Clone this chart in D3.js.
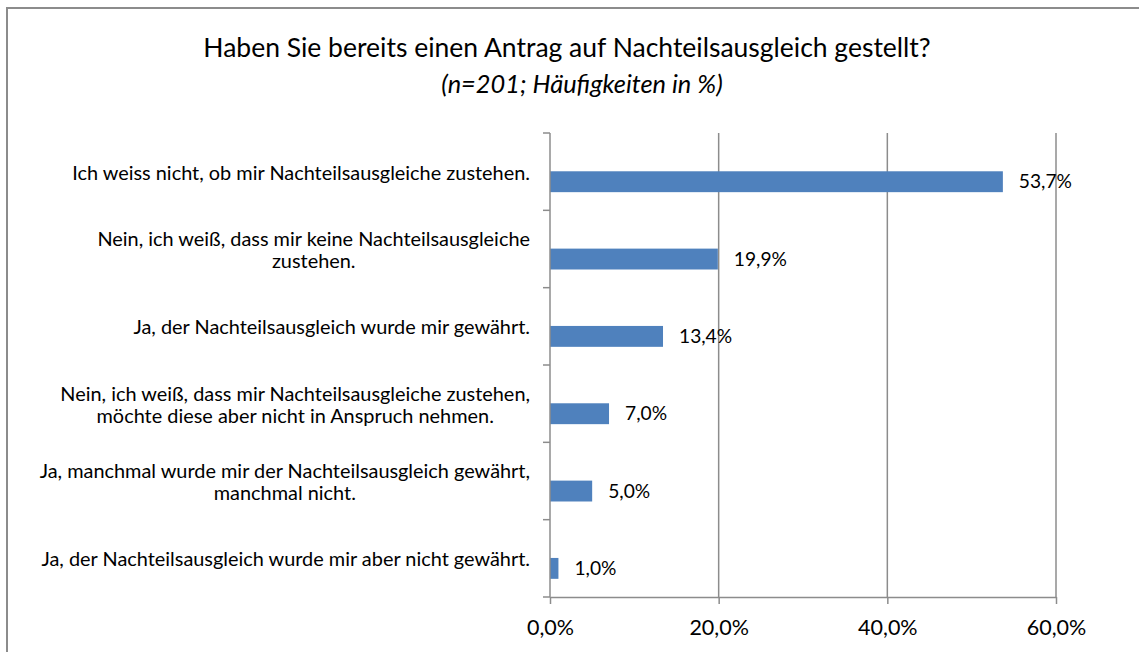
<!DOCTYPE html>
<html>
<head>
<meta charset="utf-8">
<script src="https://cdn.jsdelivr.net/npm/d3@7"></script>
<style>
  body { margin: 0; background: #fff; }
  svg { display: block; font-family: Lato, "Open Sans", sans-serif; }
</style>
</head>
<body>
<svg id="chart" width="1139" height="652"></svg>
<script>
// answers, top to bottom; long ones split over two lines like the original
var categories = [
  ['Ich weiss nicht, ob mir Nachteilsausgleiche zustehen.'],
  ['Nein, ich weiß, dass mir keine Nachteilsausgleiche', 'zustehen.'],
  ['Ja, der Nachteilsausgleich wurde mir gewährt.'],
  ['Nein, ich weiß, dass mir Nachteilsausgleiche zustehen,', 'möchte diese aber nicht in Anspruch nehmen.'],
  ['Ja, manchmal wurde mir der Nachteilsausgleich gewährt,', 'manchmal nicht.'],
  ['Ja, der Nachteilsausgleich wurde mir aber nicht gewährt.']
];
var values = [53.7, 19.9, 13.4, 7.0, 5.0, 1.0];
var xTicks = [0, 20, 40, 60];
var title = 'Haben Sie bereits einen Antrag auf Nachteilsausgleich gestellt?';
var subtitle = '(n=201; Häufigkeiten in %)';

(function () {
  'use strict';

  var svg = d3.select('#chart');
  var left = 550, right = 1056, top = 133, bottom = 597;
  var gray = '#8c8c8c';
  var fmt = function (v) { return v.toFixed(1).replace('.', ',') + '%'; };

  var x = d3.scaleLinear().domain([0, 60]).range([left, right]);
  var y = d3.scaleBand()
    .domain(d3.range(categories.length))
    .range([top, bottom]);

  // outer chart frame (runs off the page on the right and bottom)
  svg.append('rect')
    .attr('x', 7).attr('y', 8)
    .attr('width', 1300).attr('height', 800)
    .attr('fill', 'none')
    .attr('stroke', gray)
    .attr('stroke-width', 2);

  svg.append('text')
    .attr('x', 567).attr('y', 57)
    .attr('text-anchor', 'middle')
    .attr('font-size', 26.5)
    .attr('fill', '#000')
    .text(title);

  svg.append('text')
    .attr('x', 582).attr('y', 93)
    .attr('text-anchor', 'middle')
    .attr('font-size', 25.4)
    .attr('font-style', 'italic')
    .attr('fill', '#000')
    .text(subtitle);

  // vertical gridlines
  svg.append('g')
    .selectAll('line')
    .data(xTicks.filter(function (d) { return d > 0; }))
    .join('line')
    .attr('x1', function (d) { return x(d); })
    .attr('x2', function (d) { return x(d); })
    .attr('y1', top).attr('y2', bottom)
    .attr('stroke', gray)
    .attr('stroke-width', 1.5);

  // bars sit in the lower half of each band, as in the original
  var barH = y.bandwidth() * 0.27;
  var barOff = y.bandwidth() * 0.495;

  svg.append('g')
    .selectAll('rect')
    .data(values)
    .join('rect')
    .attr('x', x(0))
    .attr('y', function (d, i) { return y(i) + barOff; })
    .attr('width', function (d) { return x(d) - x(0); })
    .attr('height', barH)
    .attr('fill', '#4f81bd');

  svg.append('g')
    .selectAll('text')
    .data(values)
    .join('text')
    .attr('x', function (d) { return x(d) + 16; })
    .attr('y', function (d, i) { return y(i) + barOff + barH / 2; })
    .attr('dy', '0.35em')
    .attr('font-size', 19.2)
    .attr('fill', '#000')
    .text(fmt);

  // x axis
  var xAxis = svg.append('g')
    .attr('transform', 'translate(0,' + bottom + ')')
    .call(d3.axisBottom(x).tickValues(xTicks).tickSize(7).tickSizeOuter(0).tickPadding(16).tickFormat(fmt));
  xAxis.select('.domain').attr('stroke', gray).attr('stroke-width', 1.5);
  xAxis.selectAll('.tick line').attr('stroke', gray).attr('stroke-width', 1.5);
  xAxis.selectAll('.tick text')
    .attr('font-size', 21.5)
    .attr('font-family', 'Lato, "Open Sans", sans-serif')
    .attr('fill', '#000');

  // y axis: line plus ticks on band boundaries
  var yEdges = d3.range(categories.length + 1).map(function (i) {
    return top + i * y.step();
  });
  svg.append('line')
    .attr('x1', left).attr('x2', left)
    .attr('y1', top).attr('y2', bottom)
    .attr('stroke', gray)
    .attr('stroke-width', 1.5);
  svg.append('g')
    .selectAll('line')
    .data(yEdges)
    .join('line')
    .attr('x1', left - 7).attr('x2', left)
    .attr('y1', function (d) { return d; })
    .attr('y2', function (d) { return d; })
    .attr('stroke', gray)
    .attr('stroke-width', 1.5);

  // category labels, block right aligned, lines centred within the block
  var lineH = 22;
  var labels = svg.append('g')
    .selectAll('g')
    .data(categories)
    .join('g');

  labels.each(function (lines, i) {
    var g = d3.select(this);
    var cy = y(i) + y.bandwidth() / 2 + 1;
    var t = g.selectAll('text')
      .data(lines)
      .join('text')
      .attr('font-size', 19.9)
      .attr('fill', '#000')
      .attr('text-anchor', 'middle')
      .attr('dy', '0.35em')
      .attr('y', function (d, k) { return cy + (k - (lines.length - 1) / 2) * lineH; })
      .text(function (d) { return d; });
    var w = d3.max(t.nodes(), function (n) { return n.getComputedTextLength(); });
    t.attr('x', 530 - w / 2);
  });
})();
</script>
</body>
</html>
